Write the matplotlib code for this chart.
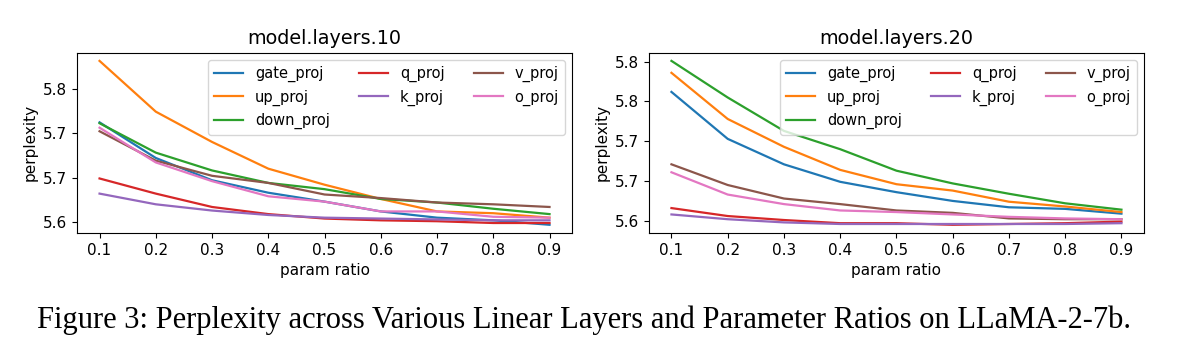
import matplotlib.pyplot as plt
import numpy as np

ratios = [0.1, 0.2, 0.3, 0.4, 0.5, 0.6, 0.7, 0.8, 0.9]
names = ["gate_proj", "up_proj", "down_proj", "q_proj", "k_proj", "v_proj", "o_proj"]
colors = ["tab:blue", "tab:orange", "tab:green", "tab:red", "tab:purple", "tab:brown", "tab:pink"]

# model.layers.10
l10_gate = [5.712, 5.672, 5.647, 5.633, 5.623, 5.612, 5.605, 5.602, 5.597]
l10_up = [5.781, 5.724, 5.690, 5.660, 5.642, 5.626, 5.612, 5.610, 5.605]
l10_down = [5.711, 5.678, 5.658, 5.644, 5.637, 5.626, 5.622, 5.615, 5.609]
l10_q = [5.649, 5.632, 5.617, 5.609, 5.604, 5.602, 5.601, 5.599, 5.599]
l10_k = [5.632, 5.620, 5.613, 5.608, 5.605, 5.604, 5.603, 5.602, 5.602]
l10_v = [5.702, 5.669, 5.652, 5.644, 5.631, 5.627, 5.622, 5.620, 5.617]
l10_o = [5.706, 5.667, 5.646, 5.629, 5.623, 5.612, 5.612, 5.606, 5.605]

# model.layers.20
l20_gate = [5.762, 5.703, 5.671, 5.649, 5.636, 5.625, 5.617, 5.615, 5.609]
l20_up = [5.786, 5.728, 5.693, 5.664, 5.646, 5.638, 5.624, 5.618, 5.611]
l20_down = [5.801, 5.755, 5.713, 5.690, 5.663, 5.647, 5.634, 5.622, 5.614]
l20_q = [5.616, 5.606, 5.601, 5.597, 5.597, 5.595, 5.596, 5.597, 5.599]
l20_k = [5.608, 5.602, 5.598, 5.596, 5.596, 5.596, 5.596, 5.596, 5.597]
l20_v = [5.671, 5.645, 5.628, 5.621, 5.613, 5.610, 5.603, 5.602, 5.602]
l20_o = [5.661, 5.633, 5.621, 5.613, 5.611, 5.608, 5.605, 5.603, 5.602]

l10_ticks = [5.60, 5.65, 5.70, 5.75]
l10_ticklabels = ["5.6", "5.7", "5.7", "5.8"]
l20_ticks = [5.60, 5.65, 5.70, 5.75, 5.80]
l20_ticklabels = ["5.6", "5.7", "5.7", "5.8", "5.8"]

caption = "Figure 3: Perplexity across Various Linear Layers and Parameter Ratios on LLaMA-2-7b."

panels = [
    ("model.layers.10", [l10_gate, l10_up, l10_down, l10_q, l10_k, l10_v, l10_o], l10_ticks, l10_ticklabels),
    ("model.layers.20", [l20_gate, l20_up, l20_down, l20_q, l20_k, l20_v, l20_o], l20_ticks, l20_ticklabels),
]

plt.rcParams["font.size"] = 11
plt.rcParams["legend.fontsize"] = 10.5

fig = plt.figure(figsize=(11.89, 3.38), dpi=100)
axes = [fig.add_axes([0.0648, 0.3107, 0.4163, 0.5334]),
        fig.add_axes([0.5458, 0.3107, 0.4163, 0.5334])]

for ax, (title, series, ticks, ticklabels) in zip(axes, panels):
    for vals, name, c in zip(series, names, colors):
        ax.plot(ratios, vals, color=c, label=name, lw=1.6)
    ax.set_title(title, fontsize=13.8)
    ax.set_xlabel("param ratio")
    ax.set_ylabel("perplexity")
    ax.set_xticks(ratios)
    ax.set_yticks(ticks)
    ax.set_yticklabels(ticklabels)
    ax.legend(ncol=3, loc="upper right")

fig.text(0.491, 0.0305, caption, ha="center", va="baseline",
         family="Liberation Serif", fontsize=22)

fig.savefig("out.png", dpi=100)
